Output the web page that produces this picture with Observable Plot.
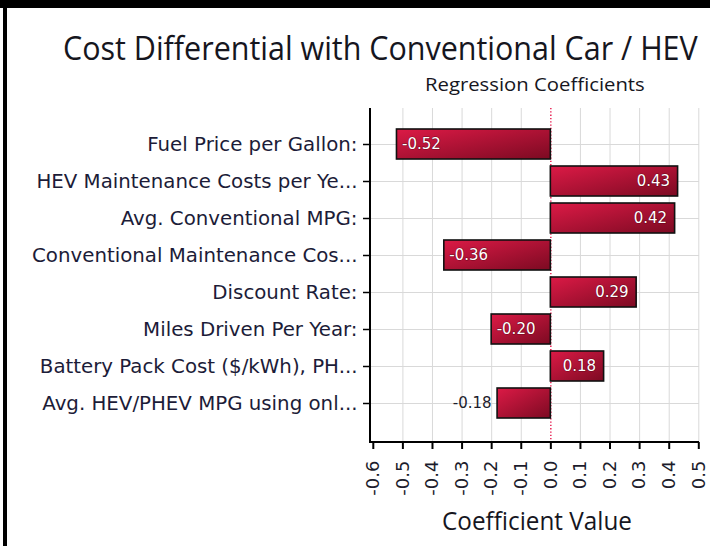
<!DOCTYPE html>
<html>
<head>
<meta charset="utf-8">
<script src="https://cdn.jsdelivr.net/npm/d3@7"></script>
<script src="https://cdn.jsdelivr.net/npm/@observablehq/plot@0.6"></script>
<style>
  body { margin: 0; background: #fff; }
  #root { position: relative; width: 710px; height: 546px; background: #fff; overflow: hidden; }
  #chart { position: absolute; left: 0; top: 95px; }
  #chart svg { overflow: visible; }
  .bar-top { position: absolute; left: 0; top: 0; width: 710px; height: 8px; background: #000; }
  .bar-left { position: absolute; left: 3px; top: 0; width: 4px; height: 546px; background: #000; }
  #texts { position: absolute; left: 0; top: 0; pointer-events: none; }
</style>
</head>
<body>
<div id="root">
  <div class="bar-top"></div>
  <div class="bar-left"></div>
  <div id="chart"></div>
  <svg id="texts" width="710" height="546"></svg>
</div>
<script>
const titleText = "Cost Differential with Conventional Car / HEV";
const subtitleText = "Regression Coefficients";
const xLabelText = "Coefficient Value";

const categories = [
  "Fuel Price per Gallon:",
  "HEV Maintenance Costs per Ye...",
  "Avg. Conventional MPG:",
  "Conventional Maintenance Cos...",
  "Discount Rate:",
  "Miles Driven Per Year:",
  "Battery Pack Cost ($/kWh), PH...",
  "Avg. HEV/PHEV MPG using onl..."
];
const coefficients = [-0.52, 0.43, 0.42, -0.36, 0.29, -0.20, 0.18, -0.18];
const xTicks = [-0.6, -0.5, -0.4, -0.3, -0.2, -0.1, 0.0, 0.1, 0.2, 0.3, 0.4, 0.5];
const outsideLabels = ["Avg. HEV/PHEV MPG using onl..."];

const data = categories.map((name, i) => ({
  name, value: coefficients[i], outside: outsideLabels.includes(name)
}));

const gradDefs = () => {
  const d = d3.create("svg:defs");
  const g = d.append("linearGradient").attr("id", "barGrad")
    .attr("x1", 0).attr("y1", 0).attr("x2", 1).attr("y2", 1);
  g.append("stop").attr("offset", "0%").attr("stop-color", "#dc1a46");
  g.append("stop").attr("offset", "100%").attr("stop-color", "#7c0a22");
  return d.node();
};

const axisLines = (index, scales, values, dim) => {
  const g = d3.create("svg:g");
  const L = dim.marginLeft, R = dim.width - dim.marginRight;
  const T = dim.marginTop, B = dim.height - dim.marginBottom;
  g.append("line").attr("x1", L).attr("x2", L).attr("y1", T).attr("y2", B + 1)
    .attr("stroke", "#000").attr("stroke-width", 2);
  g.append("line").attr("x1", L - 1).attr("x2", R).attr("y1", B).attr("y2", B)
    .attr("stroke", "#000").attr("stroke-width", 2);
  return g.node();
};

const labelFont = "DejaVu Sans, Verdana, sans-serif";
const inside = data.filter(d => !d.outside);

const chart = Plot.plot({
  width: 710,
  height: 451,
  marginLeft: 370,
  marginRight: 11,
  marginTop: 13,
  marginBottom: 104,
  x: { domain: [-0.6, 0.5], range: [372.8, 698.3] },
  y: { domain: categories, range: [29, 327], paddingInner: 0.19, paddingOuter: 0.095 },
  marks: [
    gradDefs,
    Plot.ruleX(xTicks.filter(t => t > -0.55 && Math.abs(t) > 1e-9), { stroke: "#d9d9d9", strokeWidth: 1 }),
    Plot.ruleY(categories, { stroke: "#d9d9d9", strokeWidth: 1 }),
    Plot.ruleX([0], { stroke: "#e4003a", strokeWidth: 1.3, strokeDasharray: "1.3,2" }),
    Plot.barX(data, { x: "value", y: "name", fill: "url(#barGrad)", stroke: "#111", strokeWidth: 1.6 }),
    Plot.text(inside.filter(d => d.value >= 0), {
      x: "value", y: "name", text: d => d.value.toFixed(2), textAnchor: "end", dx: -8,
      fill: "#fff", stroke: "#4a0012", strokeWidth: 1.2, strokeOpacity: 0.6, paintOrder: "stroke",
      fontSize: 15, fontFamily: labelFont
    }),
    Plot.text(inside.filter(d => d.value < 0), {
      x: "value", y: "name", text: d => d.value.toFixed(2), textAnchor: "start", dx: 5,
      fill: "#fff", stroke: "#4a0012", strokeWidth: 1.2, strokeOpacity: 0.6, paintOrder: "stroke",
      fontSize: 15, fontFamily: labelFont
    }),
    Plot.text(data.filter(d => d.outside), {
      x: "value", y: "name", text: d => d.value.toFixed(2), textAnchor: "end", dx: -6,
      fill: "#1c1c2c", fontSize: 15, fontFamily: labelFont
    }),
    Plot.axisY({
      tickSize: 7, tickPadding: 6, fontSize: 19.8, fontFamily: labelFont,
      fill: "#1c1c38", stroke: "#000", strokeWidth: 1.5, label: null
    }),
    Plot.axisX({
      ticks: xTicks, tickFormat: d => d.toFixed(1), tickRotate: -90,
      tickSize: 7, tickPadding: 11, fontSize: 18, fontFamily: labelFont,
      fill: "#1c1c2c", stroke: "#000", strokeWidth: 2, label: null
    }),
    axisLines
  ]
});
document.getElementById("chart").appendChild(chart);

const t = d3.select("#texts");
const addText = (str, x, y, size, len) => {
  const el = t.append("text")
    .attr("x", 0).attr("y", 0)
    .attr("font-family", "Open Sans, Noto Sans, sans-serif")
    .attr("font-size", size)
    .attr("fill", "#16161e")
    .text(str);
  const natural = el.node().getComputedTextLength();
  const sx = natural > 0 ? len / natural : 1;
  el.attr("transform", `translate(${x},${y}) scale(${sx},1)`);
};
addText(titleText, 63, 60, 33, 635);
addText(subtitleText, 425, 90.5, 18.5, 220);
addText(xLabelText, 442, 530, 25, 190);
</script>
</body>
</html>
